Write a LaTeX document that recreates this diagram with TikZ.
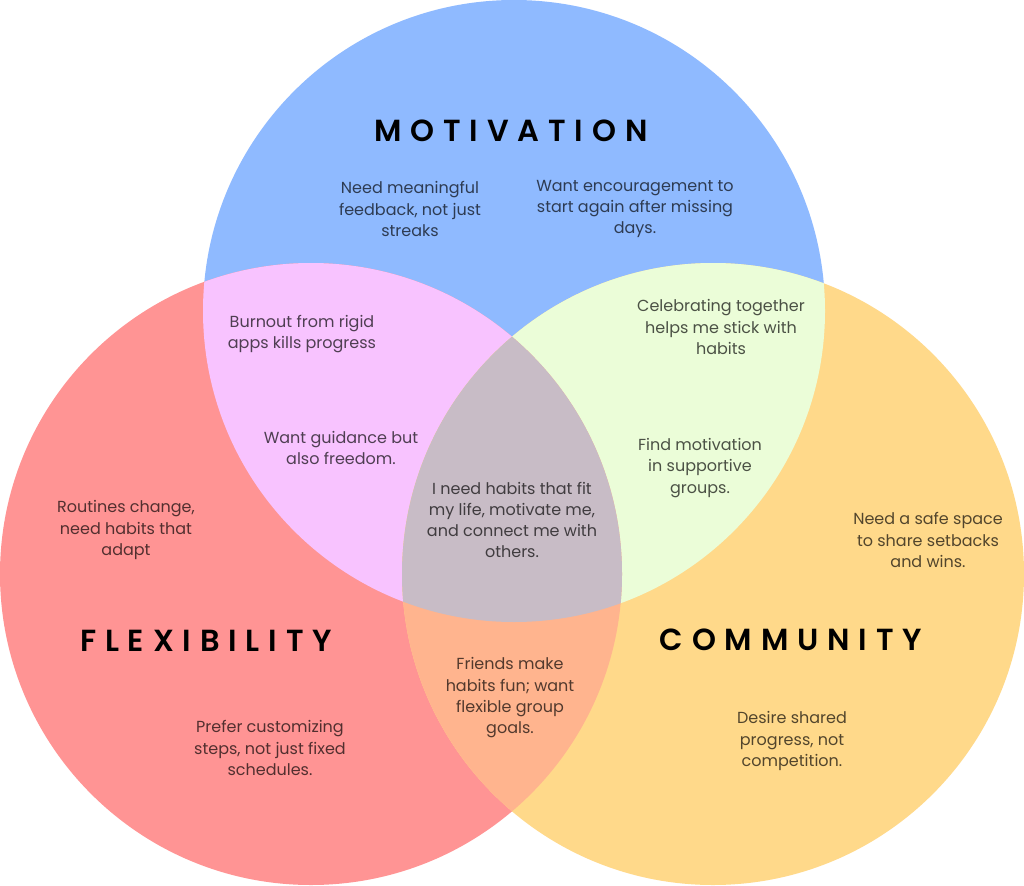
\documentclass[tikz,border=0pt]{standalone}
\usepackage{fontspec}
\setmainfont{Poppins}
\newfontfamily\titlefont[LetterSpace=29]{Poppins SemiBold}
\definecolor{cblue}{HTML}{8FBAFF}
\definecolor{cred}{HTML}{FF9494}
\definecolor{cyellow}{HTML}{FFD98A}
\definecolor{cpink}{HTML}{F8C3FF}
\definecolor{cgreen}{HTML}{EBFDD8}
\definecolor{corange}{HTML}{FFB48E}
\definecolor{ccenter}{HTML}{C8BCC6}
\begin{document}
\begin{tikzpicture}[x=1pt,y=-1pt,
  body/.style={align=center,text=black,text opacity=0.68,font=\fontsize{16}{21.3}\selectfont,inner sep=0pt},
  title/.style={text=black,font=\fontsize{30.5}{33}\titlefont,inner sep=0pt}]
\useasboundingbox (0,0) rectangle (1024,885);
\fill[white] (0,0) rectangle (1024,885);
\coordinate (cm) at (514,311);
\coordinate (cf) at (311,574);
\coordinate (cc) at (713,574);
\def\R{311}
\fill[cblue] (cm) circle[radius=\R];
\fill[cred] (cf) circle[radius=\R];
\fill[cyellow] (cc) circle[radius=\R];
\begin{scope}\clip (cm) circle[radius=\R]; \fill[cpink] (cf) circle[radius=\R];\end{scope}
\begin{scope}\clip (cm) circle[radius=\R]; \fill[cgreen] (cc) circle[radius=\R];\end{scope}
\begin{scope}\clip (cf) circle[radius=\R]; \fill[corange] (cc) circle[radius=\R];\end{scope}
\begin{scope}\clip (cm) circle[radius=\R]; \clip (cf) circle[radius=\R]; \fill[ccenter] (cc) circle[radius=\R];\end{scope}
\node[title] (tm) at (511,131) {MOTIVATION};
\node[title] (tf) at (206,641) {FLEXIBILITY};
\node[title] (tc) at (791,640) {COMMUNITY};
\node[body] (m1) at (410,209) {Need meaningful\\feedback, not just\\streaks};
\node[body] (m2) at (635,209) {Want encouragement to\\start again after missing\\days.};
\node[body] (mf1) at (302,334) {Burnout from rigid\\apps kills progress};
\node[body] (mf2) at (341,448) {Want guidance but\\also freedom.};
\node[body] (mc1) at (721,327) {Celebrating together\\helps me stick with\\habits};
\node[body] (mc2) at (700,468) {Find motivation\\in supportive\\groups.};
\node[body] (all) at (512,520) {I need habits that fit\\my life, motivate me,\\and connect me with\\others.};
\node[body] (f1) at (126,530) {Routines change,\\need habits that\\adapt};
\node[body] (f2) at (270,748) {Prefer customizing\\steps, not just fixed\\schedules.};
\node[body] (fc) at (510,698) {Friends make\\habits fun; want\\flexible group\\goals.};
\node[body] (c1) at (928,540) {Need a safe space\\to share setbacks\\and wins.};
\node[body] (c2) at (792,741) {Desire shared\\progress, not\\competition.};
\end{tikzpicture}
\end{document}
